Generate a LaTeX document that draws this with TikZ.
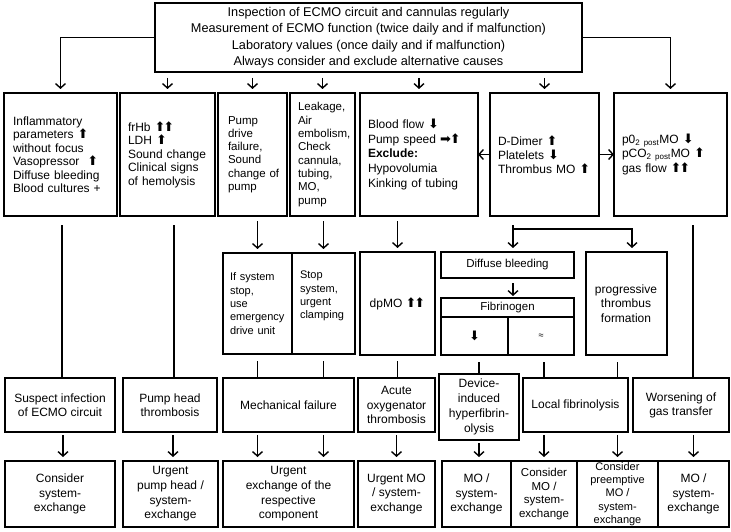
\documentclass[tikz,border=0pt]{standalone}
\usepackage{fontspec}
\setmainfont{Liberation Sans}
\newfontfamily\arrf{DejaVu Sans}
\usetikzlibrary{arrows.meta}
\newcommand\aup{{\arrf\fontsize{13}{10}\selectfont\char"2B06}}
\newcommand\adn{{\arrf\fontsize{13}{10}\selectfont\char"2B07}}
\newcommand\art{{\arrf\fontsize{13}{10}\selectfont\char"27A1}}
\newcommand\aupup{\aup\kern-2.2pt\aup}
\newcommand\fsz[2]{\fontsize{#1}{#2}\selectfont}
\begin{document}
\begin{tikzpicture}[x=1pt,y=-1pt,
  box/.style={draw, line width=2pt, inner sep=0pt, outer sep=0pt, align=center, font=\fsz{12}{13.5}},
  lbox/.style={box, align=left},
  arr/.style={line width=1.4pt, -{Straight Barb[length=4.5pt,width=10pt,line width=1.4pt]}, shorten >=4pt},
  harr/.style={line width=1.4pt, -{Straight Barb[length=4.5pt,width=10pt,line width=1.4pt]}},
  ln/.style={line width=1.4pt}]
\useasboundingbox (0,0) rectangle (731,532);

% top box
\node[box, line width=2.6pt, minimum width=427pt, minimum height=69pt, font=\fsz{12.7}{16.5}] (top) at (368.5,37.5)
  {Inspection of ECMO circuit and cannulas regularly\\Measurement of ECMO function (twice daily and if malfunction)\\Laboratory values (once daily and if malfunction)\\Always consider and exclude alternative causes};

% row 1
\node[lbox, minimum width=113pt, minimum height=123pt, text width=95pt] (b1) at (60.5,154.5)
  {Inflammatory\\parameters~\aup\\without~focus\\Vasopressor~~\aup\\Diffuse~bleeding\\Blood~cultures~+};
\node[lbox, minimum width=95pt, minimum height=123pt, text width=79pt] (b2) at (167.5,154.5)
  {frHb~\aupup\\LDH~\aup\\Sound~change\\Clinical~signs\\of~hemolysis};
\node[lbox, minimum width=69pt, minimum height=123pt, text width=49pt, font=\fsz{11.5}{13.3}] (b3) at (252.5,154.5)
  {Pump\\drive\\failure,\\Sound\\change~of\\pump};
\node[lbox, minimum width=65pt, minimum height=123pt, text width=49pt, font=\fsz{11.5}{13.3}] (b4) at (322.5,154.5)
  {Leakage,\\Air\\embolism,\\Check\\cannula,\\tubing,\\MO,\\pump};
\node[lbox, minimum width=118pt, minimum height=123pt, text width=102pt, font=\fsz{12}{14.7}] (b5) at (419,154.5)
  {Blood~flow~\adn\\Pump~speed~\art\kern-1pt\aup\\\textbf{Exclude:}\\Hypovolumia\\Kinking~of~tubing};
\node[lbox, minimum width=109pt, minimum height=123pt, text width=93pt, font=\fsz{12}{14.3}] (b6) at (544.5,154.5)
  {D-Dimer~\aup\\Platelets~\adn\\Thrombus~MO~\aup};
\node[lbox, minimum width=113pt, minimum height=123pt, text width=97pt, font=\fsz{12}{14.3}] (b7) at (670.5,154.5)
  {p0\textsubscript{2 post}MO~\adn\\pCO\textsubscript{2 post}MO~\aup\\gas~flow~\aupup};

% middle row
\node[lbox, minimum width=69pt, minimum height=101pt, text width=55pt, font=\fsz{11}{13.3}] (ifs) at (257.5,303.5)
  {If~system\\stop,\\use\\emergency\\drive~unit};
\node[lbox, minimum width=63pt, minimum height=101pt, text width=47pt, font=\fsz{11}{13.3}] (stp) at (323.5,303.5)
  {Stop\\system,\\urgent\\clamping\\\strut};
\node[box, minimum width=75pt, minimum height=103pt] (dpmo) at (397.5,303.5) {dpMO~\aupup};
\node[box, minimum width=133pt, minimum height=26pt, font=\fsz{11.5}{13}] (diff) at (507.5,265) {Diffuse bleeding};
\node[box, minimum width=133pt, minimum height=19pt, font=\fsz{11.5}{13}] (fibh) at (507.5,307.5) {Fibrinogen};
\node[box, minimum width=67pt, minimum height=38pt] (fibd) at (474.5,336) {\adn};
\node[box, minimum width=66pt, minimum height=38pt, font=\fsz{9}{10}] (fibe) at (541,336) {≈};
\node[box, minimum width=81pt, minimum height=103pt, font=\fsz{12}{14.5}] (prog) at (626,303.5)
  {progressive\\thrombus\\formation};

% row 2
\node[box, minimum width=110pt, minimum height=54pt] (sus) at (60,405) {Suspect infection\\of ECMO circuit};
\node[box, minimum width=94pt, minimum height=54pt] (pht) at (170,405) {Pump head\\thrombosis};
\node[box, minimum width=131pt, minimum height=54pt] (mech) at (288.5,405) {Mechanical failure};
\node[box, minimum width=77pt, minimum height=54pt, font=\fsz{12}{14.3}] (acute) at (396.5,405) {Acute\\oxygenator\\thrombosis};
\node[box, minimum width=80pt, minimum height=66pt, font=\fsz{12}{14.8}] (dev) at (479,407) {Device-\\induced\\hyperfibrin-\\olysis};
\node[box, minimum width=105pt, minimum height=54pt] (local) at (575.5,405) {Local fibrinolysis};
\node[box, minimum width=96pt, minimum height=54pt, font=\fsz{12}{14}] (wors) at (681,405) {Worsening of\\gas transfer};

% row 3
\node[box, minimum width=110pt, minimum height=66pt, font=\fsz{12}{14.5}] (c1) at (60,494) {Consider\\system-\\exchange};
\node[box, minimum width=95pt, minimum height=66pt, font=\fsz{12}{14.7}] (c2) at (170.5,494) {Urgent\\pump head /\\system-\\exchange};
\node[box, minimum width=131pt, minimum height=66pt, font=\fsz{12}{14.7}] (c3) at (288.5,494) {Urgent\\exchange of the\\respective\\component};
\node[box, minimum width=77pt, minimum height=66pt, font=\fsz{12}{14.3}] (c4) at (396.5,494) {Urgent MO\\/ system-\\exchange};
\node[box, minimum width=69pt, minimum height=66pt, font=\fsz{12}{14.3}] (c5) at (476.5,494) {MO /\\system-\\exchange};
\node[box, minimum width=66pt, minimum height=66pt, font=\fsz{11.5}{13.5}] (c6) at (544,494) {Consider\\MO /\\system-\\exchange};
\node[box, minimum width=81pt, minimum height=66pt, font=\fsz{11}{13.4}] (c7) at (617.5,494) {Consider\\preemptive\\MO /\\system-\\exchange};
\node[box, minimum width=71pt, minimum height=66pt, font=\fsz{12}{14.3}] (c8) at (693.5,494) {MO /\\system-\\exchange};

% top connectors
\draw[arr] (top.west) -| (b1);
\draw[arr] (top.east) -| (b7);
\foreach \b in {b2,b3,b4,b5,b6}
  \draw[arr] ([yshift=-6pt]top.south -| \b) -- (\b);
\draw[harr] (b6.west) -- (b5.east);
\draw[harr] (b6.east) -- (b7.west);

% row 1 to middle
\draw[arr] ([yshift=-5pt]b3.south -| ifs) -- (ifs);
\draw[arr] ([yshift=-5pt]b4.south -| stp) -- (stp);
\draw[arr] ([yshift=-5pt]b5.south -| dpmo) -- (dpmo);
\coordinate (bs) at (513,225);
\coordinate (bk) at (513,229);
\coordinate (bp) at (632,229);
\draw[arr] (bs) -- (bs |- diff.north);
\draw[arr] (bk) -- (bp) -- (bp |- prog.north);
\draw[arr, shorten >=2pt] ([yshift=-5pt]diff.south -| bs) -- (bs |- fibh.north);

% long lines
\draw[ln] ([yshift=-9pt]b1.south -| 62,0) -- (62,0 |- sus.north);
\draw[ln] ([yshift=-9pt]b2.south -| 174,0) -- (174,0 |- pht.north);
\draw[ln] ([yshift=-9pt]b7.south -| 693,0) -- (693,0 |- wors.north);

% middle to row 2
\draw[ln] ([yshift=-7pt]ifs.south) -- (ifs |- mech.north);
\draw[ln] ([yshift=-7pt]stp.south) -- (stp |- mech.north);
\draw[ln] ([yshift=-6pt]dpmo.south) -- (dpmo |- acute.north);
\draw[ln] ([yshift=-7pt]fibd.south -| dev) -- (dev.north);
\draw[ln] ([yshift=-7pt]fibe.south -| c6) -- (c6 |- local.north);
\draw[ln] ([yshift=-7pt]prog.south -| c7) -- (c7 |- local.north);

% row 2 to row 3
\draw[arr] ([yshift=-3pt]sus.south -| 63,0) -- (63,0 |- c1.north);
\draw[arr] ([yshift=-3pt]pht.south -| 173,0) -- (173,0 |- c2.north);
\draw[arr] ([yshift=-3pt]mech.south -| ifs) -- (ifs |- c3.north);
\draw[arr] ([yshift=-3pt]mech.south -| stp) -- (stp |- c3.north);
\draw[arr] ([yshift=-3pt]acute.south) -- (c4);
\draw[arr] ([yshift=-3pt]dev.south) -- (dev |- c5.north);
\draw[arr] ([yshift=-3pt]local.south -| c6) -- (c6);
\draw[arr] ([yshift=-3pt]local.south -| c7) -- (c7);
\draw[arr] ([yshift=-3pt]wors.south -| c8) -- (c8);
\end{tikzpicture}
\end{document}
